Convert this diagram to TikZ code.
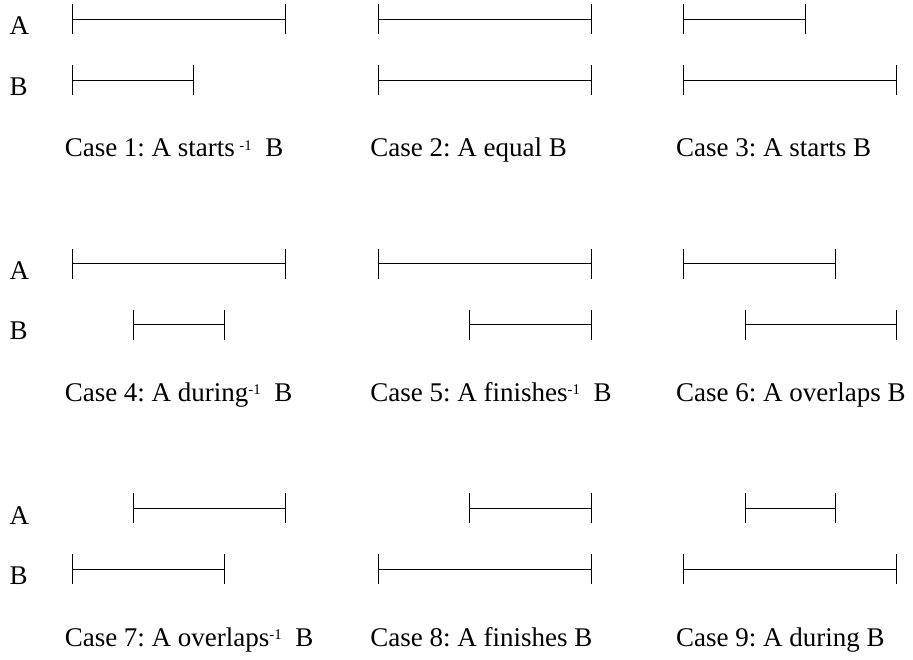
\documentclass[tikz,border=0pt]{standalone}
\usepackage{fontspec}
\setmainfont{Liberation Serif}
\usetikzlibrary{arrows.meta}
\newcommand{\inv}{\raisebox{3.4pt}{\fontsize{7.4}{8}\selectfont -1}}

\begin{document}
\frenchspacing
\begin{tikzpicture}[
  x=15.285pt, y=15.285pt,
  span/.style={line width=0.5pt, {Bar[width=15pt]}-{Bar[width=15pt]}},
  lbl/.style={font=\fontsize{13.5}{15}\selectfont, anchor=base west, inner sep=0pt},
]
  \useasboundingbox (-2.355,0.622) rectangle (27.51,-20.94);

  %% Row letters
  \foreach \r in {0,1,2} {
    \node[lbl] (a\r) at (-2.05,-8*\r-0.52) {A};
    \node[lbl] (b\r) at (-2.05,-8*\r-2.49) {B};
  }

  %% Intervals: column/row/A from/A to/B from/B to
  \foreach \c/\r/\as/\ae/\bs/\be [count=\i] in
    {0/0/0/7/0/4, 1/0/0/7/0/7, 2/0/0/4/0/7,
     0/1/0/7/2/5, 1/1/0/7/3/7, 2/1/0/5/2/7,
     0/2/2/7/0/5, 1/2/3/7/0/7, 2/2/2/5/0/7} {
    \coordinate (A\i s) at (10*\c+\as, -8*\r);
    \coordinate (A\i e) at (10*\c+\ae, -8*\r);
    \coordinate (B\i s) at (10*\c+\bs, -8*\r-2);
    \coordinate (B\i e) at (10*\c+\be, -8*\r-2);
    \draw[span] (A\i s) -- (A\i e);
    \draw[span] (B\i s) -- (B\i e);
  }

  %% Case captions
  \node[lbl] (case1) at (-0.25,-4.51)  {Case 1: A starts\,\inv\ \ B};
  \node[lbl] (case2) at (9.75,-4.51)   {Case 2: A equal B};
  \node[lbl] (case3) at (19.75,-4.51)  {Case 3: A starts B};
  \node[lbl] (case4) at (-0.25,-12.51) {Case 4: A during\inv\ \ B};
  \node[lbl] (case5) at (9.75,-12.51)  {Case 5: A finishes\inv\ \ B};
  \node[lbl] (case6) at (19.75,-12.51) {Case 6: A overlaps B};
  \node[lbl] (case7) at (-0.25,-20.51) {Case 7: A overlaps\inv\ \ B};
  \node[lbl] (case8) at (9.75,-20.51)  {Case 8: A finishes B};
  \node[lbl] (case9) at (19.75,-20.51) {Case 9: A during B};
\end{tikzpicture}
\end{document}
